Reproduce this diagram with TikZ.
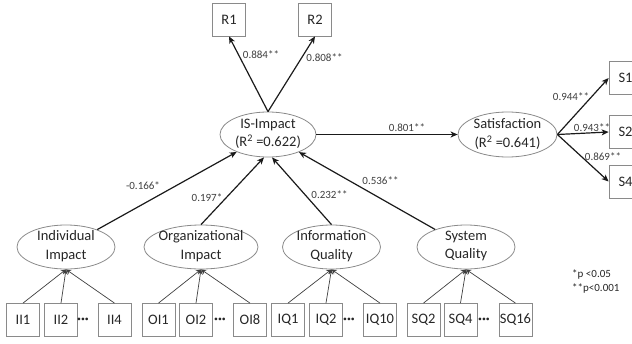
\documentclass[tikz,border=0pt]{standalone}
\usepackage{fontspec}
\setmainfont{Carlito}
\usetikzlibrary{shapes.geometric,arrows.meta}
\definecolor{bordergray}{HTML}{8A8A8A}
\definecolor{linedark}{HTML}{1A1A1A}
\definecolor{textdark}{HTML}{262626}
\definecolor{labgray}{HTML}{3F3F3F}
\tikzset{
  latent/.style={ellipse, draw=bordergray, line width=0.8pt, minimum width=#1, minimum height=44pt, inner sep=0pt},
  latent/.default=98pt,
  lattext/.style={align=center, text=textdark, font=\fontsize{14.5}{18.5}\selectfont, inner sep=0pt},
  indic/.style={rectangle, draw=bordergray, line width=0.8pt, minimum width=33pt, minimum height=33pt, inner sep=1pt, text=textdark, font=\fontsize{14.5}{17}\selectfont},
  dotsnode/.style={text=textdark, font=\fontsize{14.5}{17}\selectfont\bfseries, inner sep=0pt},
  mainarrow/.style={draw=linedark, line width=1.2pt, -{Stealth[length=7pt, width=6pt, inset=2pt]}},
  thinarrow/.style={draw=labgray, line width=0.7pt, -{Stealth[length=5pt, width=5pt]}},
  lab/.style={text=labgray, font=\fontsize{11}{13}\selectfont, inner sep=0pt},
  legend/.style={text=textdark, font=\fontsize{11}{13}\selectfont, inner sep=0pt, anchor=west}
}
\begin{document}
\begin{tikzpicture}[x=1pt, y=-1pt]
\useasboundingbox (0,0) rectangle (632,343);
% upper latent variables
\node[latent=96pt, minimum height=45pt] (isi) at (268,134.5) {};
\node[lattext] (isi-t) at (268,134) {IS-Impact\\(R\textsuperscript{2} =0.622)};
\node[latent=99pt, minimum height=45pt] (sat) at (507.5,134.5) {};
\node[lattext] (sat-t) at (507.5,134) {Satisfaction\\(R\textsuperscript{2} =0.641)};
% reflective indicators of IS-Impact
\node[indic] (r1) at (229,19.5) {R1};
\node[indic] (r2) at (315,19.5) {R2};
% satisfaction indicators
\node[indic] (s1) at (625.5,78) {S1};
\node[indic] (s2) at (625.5,132) {S2};
\node[indic] (s4) at (625.5,181.5) {S4};
% lower latent variables
\node[latent=98pt] (ii) at (66,247) {};
\node[lattext] (ii-t) at (66,246) {Individual\\Impact};
\node[latent=114pt] (oi) at (201,247) {};
\node[lattext] (oi-t) at (201,246) {Organizational\\Impact};
\node[latent=98pt] (iq) at (331.5,247) {};
\node[lattext] (iq-t) at (331.5,246) {Information\\Quality};
\node[latent=98pt] (sq) at (466,247) {};
\node[lattext] (sq-t) at (466,246) {System\\Quality};
% formative indicators
\node[indic] (ii1) at (23,320) {II1};
\node[indic] (ii2) at (61,320) {II2};
\node[dotsnode] (d1) at (83,321) {···};
\node[indic] (ii4) at (114.5,320) {II4};
\node[indic] (oi1) at (158.5,320) {OI1};
\node[indic] (oi2) at (196,320) {OI2};
\node[dotsnode] (d2) at (220,321) {···};
\node[indic] (oi8) at (250,320) {OI8};
\node[indic] (iq1) at (288,320) {IQ1};
\node[indic] (iq2) at (326,320) {IQ2};
\node[dotsnode] (d3) at (349,321) {···};
\node[indic] (iq10) at (380,320) {IQ10};
\node[indic] (sq2) at (423.5,320) {SQ2};
\node[indic] (sq4) at (460.5,320) {SQ4};
\node[dotsnode] (d4) at (484,321) {···};
\node[indic] (sq16) at (515.5,320) {SQ16};
% structural arrows
\draw[mainarrow] (isi.north) -- (r1.south);
\draw[mainarrow] (isi.north) -- (r2.south);
\draw[mainarrow] (isi.east) -- (sat.west);
\draw[mainarrow] (sat.east) -- (s1.west);
\draw[mainarrow] (sat.east) -- (s2.west);
\draw[mainarrow] (sat.east) -- (s4.west);
\draw[mainarrow] (ii) -- (isi);
\draw[mainarrow] (oi.north) -- ([xshift=-4pt]isi.south);
\draw[mainarrow] (iq.north) -- ([xshift=4pt]isi.south);
\draw[mainarrow] (sq) -- (isi);
% formative arrows
\foreach \b in {ii1,ii2,ii4} \draw[thinarrow] (\b.north) -- (ii.south);
\foreach \b in {oi1,oi2,oi8} \draw[thinarrow] (\b.north) -- (oi.south);
\foreach \b in {iq1,iq2,iq10} \draw[thinarrow] (\b.north) -- (iq.south);
\foreach \b in {sq2,sq4,sq16} \draw[thinarrow] (\b.north) -- (sq.south);
% path coefficients
\node[lab] (l-r1) at (261,55) {0.884**};
\node[lab] (l-r2) at (324.5,58) {0.808**};
\node[lab] (l-sat) at (407,128) {0.801**};
\node[lab] (l-s1) at (571,97) {0.944**};
\node[lab] (l-s2) at (592,128) {0.943**};
\node[lab] (l-s4) at (603,157) {0.869**};
\node[lab] (l-ii) at (143,186) {-0.166*};
\node[lab] (l-oi) at (207,198) {0.197*};
\node[lab] (l-iq) at (329.5,195) {0.232**};
\node[lab] (l-sq) at (380.5,181) {0.536**};
% legend
\node[legend] (leg1) at (572,274) {*p <0.05};
\node[legend] (leg2) at (572,288) {**p<0.001};
\end{tikzpicture}
\end{document}
